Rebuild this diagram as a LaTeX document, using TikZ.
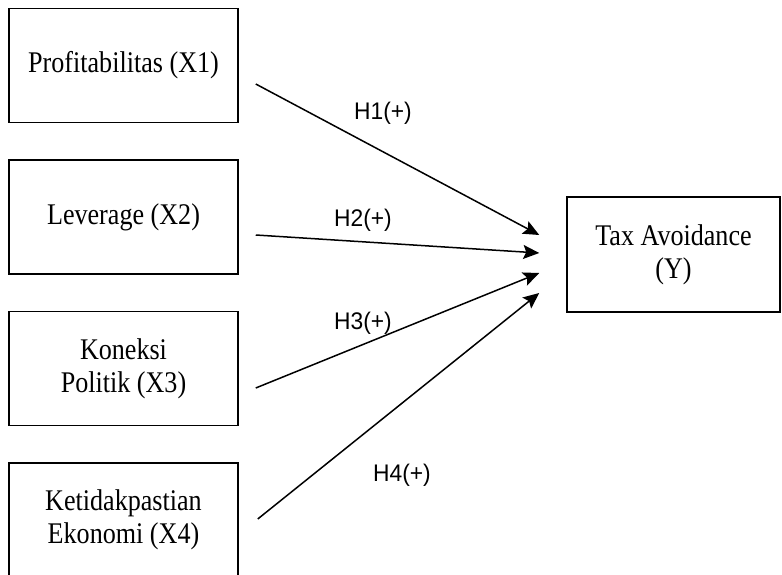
\documentclass[tikz,border=0pt]{standalone}
\usepackage{fontspec}
\setmainfont[FakeStretch=0.87]{Liberation Serif}
\newfontfamily\hlabelfont[FakeStretch=0.95]{Liberation Sans}
\usetikzlibrary{arrows.meta, positioning}
\tikzset{
  varbox/.style={
    draw, line width=1.5pt,
    minimum width=229pt, minimum height=114pt,
    align=center, font=\fontsize{30}{33}\selectfont, inner sep=0pt
  },
  hyparr/.style={-{Stealth[length=16pt, width=14pt, inset=3pt]}, line width=1.5pt},
  hyplabel/.style={font=\hlabelfont\fontsize{24}{28}\selectfont}
}

\begin{document}
\begin{tikzpicture}[x=1pt, y=1pt]
\useasboundingbox (0,0) rectangle (782,574);

% Independent variables
\node[varbox] (x1) at (123.5,508.5) {Profitabilitas (X1)};
\node[varbox] (x2) at (123.5,357) {Leverage (X2)};
\node[varbox] (x3) at (123.5,205.5) {Koneksi\\Politik (X3)};
\node[varbox] (x4) at (123.5,54) {Ketidakpastian\\Ekonomi (X4)};

% Dependent variable
\node[varbox, minimum width=213pt, minimum height=115pt] (y) at (673.5,319.5) {Tax Avoidance\\(Y)};

% Hypotheses
\draw[hyparr] ([xshift=17pt, yshift=-18.5pt]x1.east) -- ([xshift=-27pt, yshift=19.5pt]y.west);
\draw[hyparr] ([xshift=17pt, yshift=-18pt]x2.east) -- ([xshift=-27pt, yshift=1.5pt]y.west);
\draw[hyparr] ([xshift=17pt, yshift=-19.5pt]x3.east) -- ([xshift=-27pt, yshift=-18.5pt]y.west);
\draw[hyparr] ([xshift=19pt, yshift=1pt]x4.east) -- ([xshift=-27pt, yshift=-38.5pt]y.west);

\node[hyplabel] (h1) at (383,461) {H1(+)};
\node[hyplabel] (h2) at (363,354) {H2(+)};
\node[hyplabel] (h3) at (363,251) {H3(+)};
\node[hyplabel] (h4) at (402,99) {H4(+)};

\end{tikzpicture}
\end{document}
